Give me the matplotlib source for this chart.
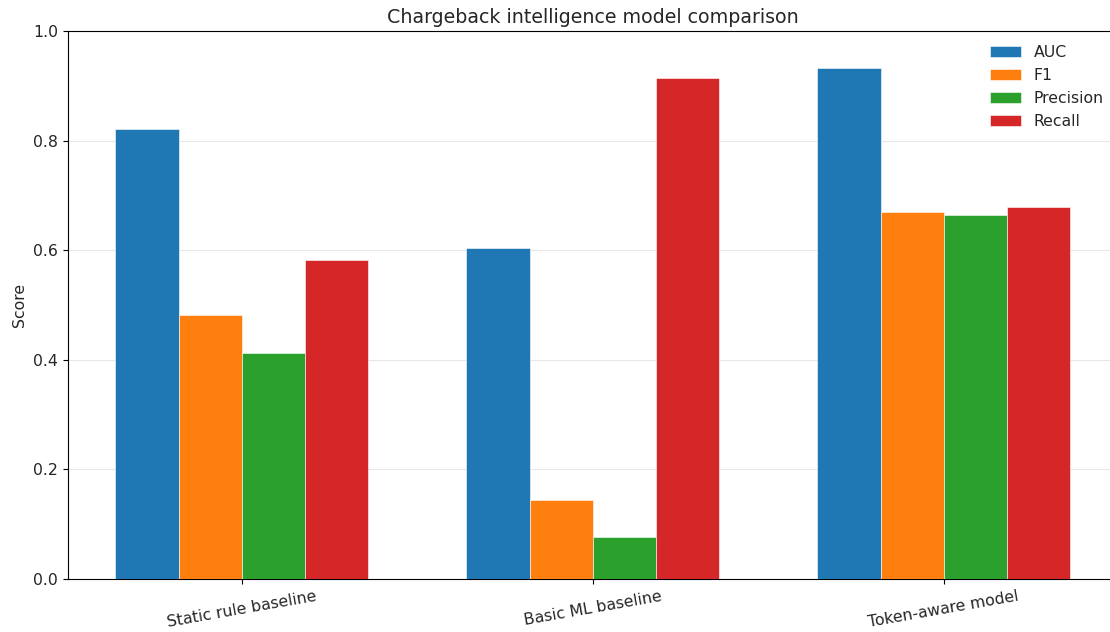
import matplotlib.pyplot as plt
import numpy as np

# 모델 / 지표 데이터
models = ['Static rule baseline', 'Basic ML baseline', 'Token-aware model']
metrics = ['AUC', 'F1', 'Precision', 'Recall']
auc = [0.821, 0.604, 0.932]
f1 = [0.482, 0.144, 0.670]
precision = [0.412, 0.077, 0.664]
recall = [0.582, 0.914, 0.679]

series = [auc, f1, precision, recall]
colors = ['#1f77b4', '#ff7f0e', '#2ca02c', '#d62728']
txt = '#262626'

fig, ax = plt.subplots(figsize=(11.1, 6.32), dpi=100)
fig.subplots_adjust(left=0.061, right=1.007, top=0.951, bottom=0.084)

x = np.arange(len(models))
width = 0.18
for i, (name, vals) in enumerate(zip(metrics, series)):
    ax.bar(x + (i - 1.5) * width, vals, width, label=name, color=colors[i],
           edgecolor='white', linewidth=0.4, zorder=3)

ax.set_xticks(x)
ax.set_xticklabels(models, rotation=10, fontsize=11.3, color=txt)
ax.tick_params(axis='y', labelsize=11.3, labelcolor=txt)
ax.set_ylim(0, 1.0)
ax.set_ylabel('Score', fontsize=11.3, color=txt)
ax.set_title('Chargeback intelligence model comparison', fontsize=13.7, color=txt)
ax.grid(axis='y', alpha=0.3, zorder=0)
leg = ax.legend(frameon=False, loc='upper right', fontsize=11.3)
for t in leg.get_texts():
    t.set_color(txt)

plt.savefig('out.png', dpi=100)
